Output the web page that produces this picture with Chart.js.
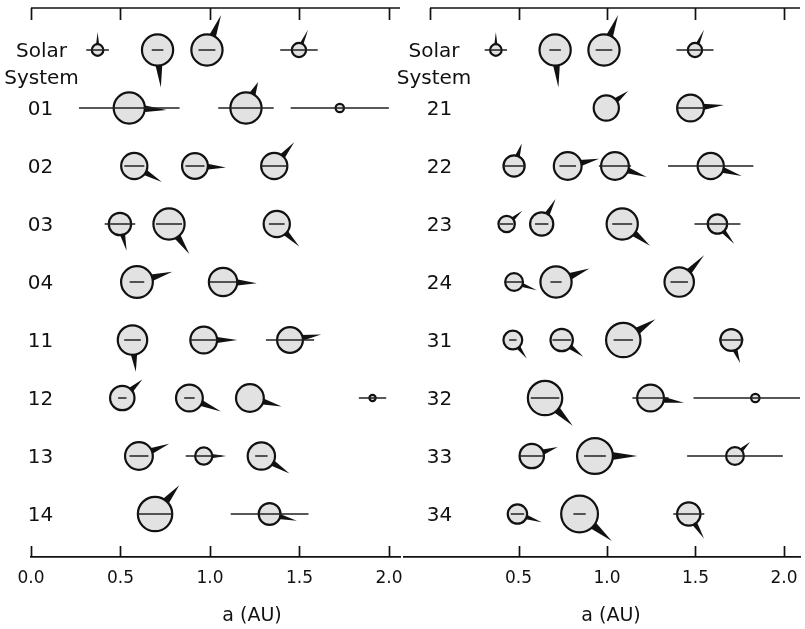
<!DOCTYPE html>
<html><head><meta charset="utf-8">
<script src="https://cdn.jsdelivr.net/npm/chart.js@4.4.1/dist/chart.umd.min.js"></script>
<style>
html,body{margin:0;padding:0;background:#fff;}
#wrap{position:relative;width:805px;height:629px;overflow:hidden;background:#fff;}
canvas{position:absolute;top:0;}
</style></head><body>
<div id="wrap">
<canvas id="cL" width="403" height="629" style="left:0px"></canvas>
<canvas id="cR" width="425" height="629" style="left:380px"></canvas>
</div>
<script>
// ---------- data ----------
const rowLabelsLeft  = ['Solar System','01','02','03','04','11','12','13','14'];
const rowLabelsRight = ['Solar System','21','22','23','24','31','32','33','34'];
const xTicksLeft        = [0.0, 0.5, 1.0, 1.5, 2.0];
const xTicksRightBottom = [0.5, 1.0, 1.5, 2.0];
const xTicksRightTop    = [0.0, 0.5, 1.0, 1.5, 2.0];
const axisTitle = 'a (AU)';

// Solar System (row 0 of both panels): a [AU], e, mass [Earth], obliquity [deg], spin (Earth ~ 1)
const solarA         = [0.372, 0.707, 0.983, 1.497];
const solarE         = [0.17, 0.046, 0.048, 0.07];
const solarMass      = [0.07, 1.0, 1.0, 0.12];
const solarObliquity = [0, 175, 22, 24];
const solarSpin      = [0.55, 1.05, 1.05, 0.7];

// Left panel: systems 01-14 (row index 1..8)
const leftRow       = [1,1,1, 2,2,2, 3,3,3, 4,4, 5,5,5, 6,6,6,6, 7,7,7, 8,8];
const leftA         = [0.549,1.201,1.725, 0.577,0.916,1.359, 0.497,0.771,1.373, 0.592,1.073, 0.567,0.965,1.447, 0.510,0.885,1.223,1.908, 0.603,0.965,1.287, 0.693,1.333];
const leftE         = [0.512,0.129,0.159, 0.097,0.058,0.054, 0.172,0.094,0.032, 0.069,0.075, 0.082,0.081,0.093, 0.046,0.033,0.0,0.040, 0.088,0.104,0.027, 0.143,0.163];
const leftMass      = [1.0,1.0,0.032, 0.615,0.59,0.615, 0.40,1.0,0.615, 1.05,0.77, 0.85,0.655,0.59, 0.505,0.655,0.725,0.016, 0.725,0.196,0.69, 1.316,0.371];
const leftObliquity = [93,25,0, 120,93,40, 166,146,135, 74,92, 174,90,80, 47,113,105,0, 68,90,122, 40,104];
const leftSpin      = [1.03,0.6,0, 0.88,0.85,0.84, 0.76,0.98,0.88, 0.99,0.92, 0.8,0.95,0.88, 0.7,0.99,0.89,0, 0.88,0.64,0.92, 0.97,0.8];

// Right panel: systems 21-34 (row index 1..8)
const rightRow       = [1,1, 2,2,2,2, 3,3,3,3, 4,4,4, 5,5,5,5, 6,6,6, 7,7,7, 8,8,8];
const rightA         = [0.996,1.472, 0.475,0.778,1.045,1.586, 0.433,0.631,1.086,1.624, 0.475,0.712,1.408, 0.468,0.744,1.092,1.702, 0.650,1.246,1.838, 0.575,0.932,1.723, 0.494,0.845,1.462];
const rightE         = [0.0,0.053, 0.128,0.060,0.087,0.152, 0.087,0.060,0.052,0.080, 0.100,0.044,0.035, 0.045,0.070,0.050,0.040, 0.124,0.082,0.190, 0.123,0.066,0.157, 0.077,0.041,0.060];
const rightMass      = [0.552,0.655, 0.344,0.725,0.725,0.615, 0.173,0.44,1.0,0.27, 0.215,1.0,0.85, 0.249,0.40,1.316,0.371, 1.316,0.655,0.032, 0.505,1.473,0.215, 0.27,1.59,0.45];
const rightObliquity = [52,85, 19,77,109,108, 50,29,128,140, 110,68,43, 143,128,57,159, 135,98,0, 71,90,47, 109,130,148];
const rightSpin      = [0.7,0.95, 0.6,0.86,0.93,0.92, 0.56,0.8,0.93,0.77, 0.71,0.96,1.03, 0.63,0.75,1.0,0.63, 1.04,0.97,0, 0.71,1.17,0.53, 0.74,1.13,0.8];

// ---------- styling constants ----------
const R_EARTH = 16.7;      // outer radius (px) of an Earth-mass body
const SPIN_PX = 20;        // spike length (px) for spin = 1
const FONT = '"DejaVu Sans", "Liberation Sans", sans-serif';

function outerRadius(m){ return R_EARTH * Math.cbrt(m); }

function buildPlanets(rows, a, e, m, ob, sp){
  const out = [];
  solarA.forEach((v,i)=>out.push({x:v, y:0, e:solarE[i], m:solarMass[i], obl:solarObliquity[i], spin:solarSpin[i]}));
  a.forEach((v,i)=>out.push({x:v, y:rows[i], e:e[i], m:m[i], obl:ob[i], spin:sp[i]}));
  return out;
}

const decor = {
  id:'decor',
  beforeDatasetsDraw(chart){
    const ctx = chart.ctx, xs = chart.scales.x, ys = chart.scales.y;
    const pts = chart.data.datasets[1].data;
    ctx.save();
    ctx.fillStyle = '#111';
    pts.forEach(p=>{
      if (!p.spin) return;
      const cx = xs.getPixelForValue(p.x), cy = ys.getPixelForValue(p.y);
      const r = outerRadius(p.m);
      const t = p.obl*Math.PI/180;
      const dx = Math.sin(t), dy = -Math.cos(t);
      const L = r + SPIN_PX*p.spin;
      const w = Math.max(1, 0.22*r);
      const bx = cx + dx*0.8*r, by = cy + dy*0.8*r;
      ctx.beginPath();
      ctx.moveTo(cx + dx*L, cy + dy*L);
      ctx.lineTo(bx - dy*w, by + dx*w);
      ctx.lineTo(bx + dy*w, by - dx*w);
      ctx.closePath();
      ctx.fill();
    });
    ctx.restore();
  },
  afterDraw(chart, args, o){
    const ctx = chart.ctx, xs = chart.scales.x, ys = chart.scales.y, ca = chart.chartArea;
    ctx.save();
    ctx.strokeStyle = '#111'; ctx.lineWidth = 1.7;
    ctx.beginPath();
    ctx.moveTo(xs.getPixelForValue(0), ca.top); ctx.lineTo(ca.right, ca.top);
    ctx.stroke();
    o.topTicks.forEach(v=>{
      const px = Math.round(xs.getPixelForValue(v)) + 0.5;
      ctx.beginPath(); ctx.moveTo(px, ca.top); ctx.lineTo(px, ca.top + 12); ctx.stroke();
    });
    o.bottomTicks.forEach(v=>{
      const px = Math.round(xs.getPixelForValue(v)) + 0.5;
      ctx.beginPath(); ctx.moveTo(px, ca.bottom); ctx.lineTo(px, ca.bottom - 11); ctx.stroke();
    });
    ctx.fillStyle = '#111'; ctx.textAlign = 'center'; ctx.textBaseline = 'alphabetic';
    ctx.font = '20px ' + FONT;
    o.rows.forEach((lab,i)=>{
      const py = ys.getPixelForValue(i) + 7.3;
      const parts = lab.split(' ');
      if (parts.length > 1){
        parts.forEach((s,k)=>ctx.fillText(s, o.solarX, py + 27*k));
      } else {
        ctx.fillText(lab, o.labelX, py);
      }
    });
    ctx.font = '19px ' + FONT; ctx.textBaseline = 'middle';
    ctx.fillText(axisTitle, o.titleX, ca.bottom + 59);
    ctx.restore();
  }
};

function makeChart(id, planets, rows, ticksBottom, ticksTop, xMin, xMax, padL, padR, pos){
  const pts = planets.map(p=>({x:p.x, y:p.y, m:p.m, obl:p.obl, spin:p.spin}));
  const orbit = [];
  planets.forEach(p=>{
    if (p.e > 0){
      orbit.push({x:p.x*(1-p.e), y:p.y}, {x:p.x*(1+p.e), y:p.y}, {x:p.x, y:null});
    }
  });
  return new Chart(document.getElementById(id), {
    type:'scatter',
    data:{datasets:[
      {data:orbit, showLine:true, pointRadius:0, borderColor:'#222', borderWidth:1.6, spanGaps:false, order:0},
      {data:pts,
       pointRadius: c => (c.raw && c.raw.m) ? outerRadius(c.raw.m) - 1.1 : 3,
       pointBackgroundColor:'#e2e2e2', pointBorderColor:'#111', pointBorderWidth:2.2, order:1}
    ]},
    options:{
      responsive:false, animation:false, events:[],
      layout:{autoPadding:false, padding:{top:8, left:padL, right:padR, bottom:0}},
      plugins:{legend:{display:false}, tooltip:{enabled:false},
        decor:{rows:rows, topTicks:ticksTop, bottomTicks:ticksBottom, labelX:pos.labelX, solarX:pos.solarX, titleX:pos.titleX}},
      scales:{
        x:{type:'linear', min:xMin, max:xMax, position:'bottom',
          afterBuildTicks: s => { s.ticks = ticksBottom.map(v=>({value:v})); },
          afterFit: s => { s.height = 72; s.paddingLeft = 0; s.paddingRight = 0; },
          grid:{display:false, drawTicks:false},
          border:{display:true, color:'#111', width:1.7},
          ticks:{padding:11, autoSkip:false, maxRotation:0, color:'#111',
                 font:{family:FONT, size:17}, callback: v => Number(v).toFixed(1)}},
        y:{type:'linear', reverse:true, min:-0.724, max:8.741, display:false}
      }
    },
    plugins:[decor]
  });
}

makeChart('cL', buildPlanets(leftRow, leftA, leftE, leftMass, leftObliquity, leftSpin),
  rowLabelsLeft, xTicksLeft, xTicksLeft, 0, 2.0615, 31, 3, {labelX:40.5, solarX:41.5, titleX:252});
makeChart('cR', buildPlanets(rightRow, rightA, rightE, rightMass, rightObliquity, rightSpin),
  rowLabelsRight, xTicksRightBottom, xTicksRightTop, -0.1469, 2.0904, 24, 5, {labelX:59.5, solarX:54, titleX:231});
</script>
</body></html>
